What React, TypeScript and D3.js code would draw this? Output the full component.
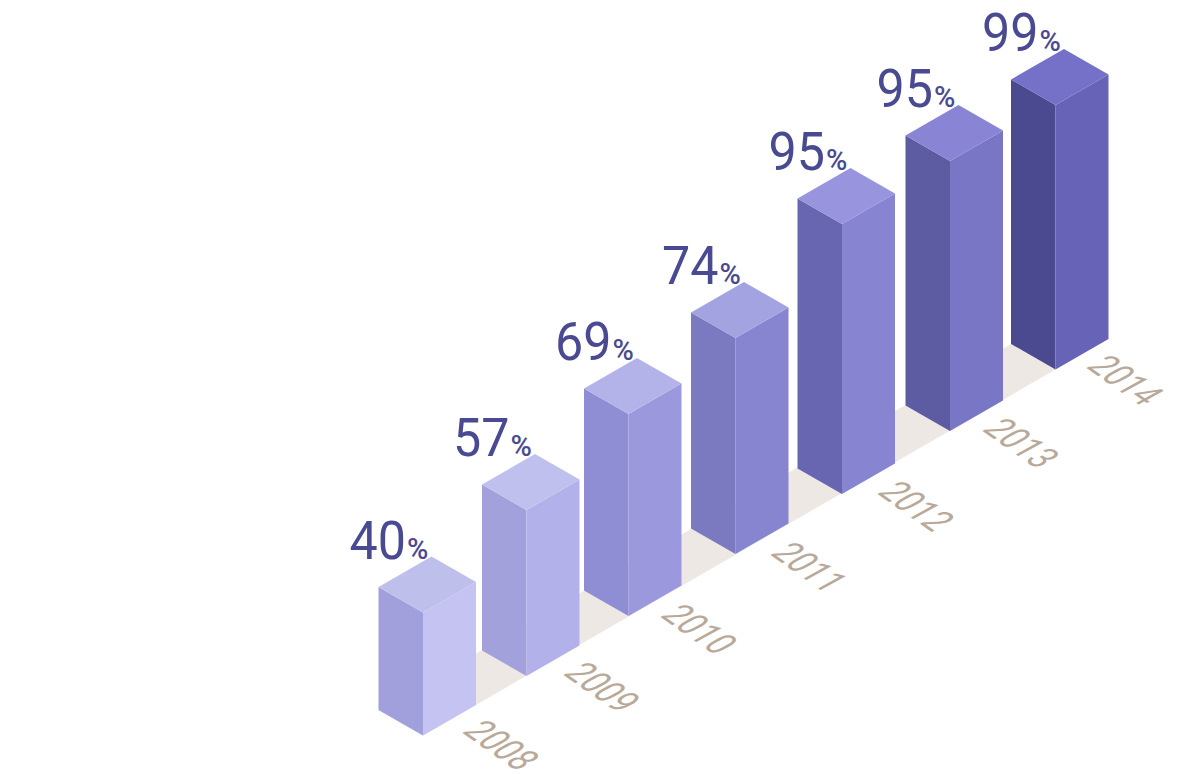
import * as d3 from "d3";

const years = [2008, 2009, 2010, 2011, 2012, 2013, 2014];
const percents = [40, 57, 69, 74, 95, 95, 99];

const topColors = ["#bfbfec", "#c0c0ee", "#b4b3e9", "#a4a3e2", "#9894de", "#8985d4", "#7571c8"];
const leftColors = ["#a1a0dc", "#a2a1dc", "#8f8dd3", "#7b79c0", "#6866b1", "#5d5ba1", "#4b4a91"];
const rightColors = ["#c5c3f1", "#b3b1e9", "#9b98dd", "#8784d0", "#8784d1", "#7a76c6", "#6763b6"];

const width = 1180;
const height = 774;

// isometric edges of a bar's footprint, seen from the front corner
const leftEdge = { x: -44.5, y: -25.5 };
const rightEdge = { x: 53, y: -30.5 };

// the bars are not evenly spaced in the picture, so the scales are piecewise
const baseX = d3.scaleLinear().domain(years).range([423, 526.5, 628.5, 735.5, 842, 950, 1055.5]);
const baseY = d3.scaleLinear().domain(years).range([735.5, 676, 616, 554, 494, 431, 369.5]);
const labelX = d3.scaleLinear().domain(years).range([461, 562, 659, 769, 876, 981, 1085]);
const labelY = d3.scaleLinear().domain(years).range([732, 674, 616, 554, 493, 430, 367]);

// bar heights do not follow the labels linearly either (99% is shorter than 95%)
const barHeight = d3
  .scaleLinear()
  .domain([40, 57, 69, 74, 95, 99])
  .range([123, 166, 202, 216, 270, 264.5]);

type Pt = [number, number];
const polygon = d3.line<Pt>().curve(d3.curveLinearClosed);

function Bar({ index }: { index: number }) {
  const year = years[index];
  const x = baseX(year);
  const y = baseY(year);
  const h = barHeight(percents[index]);
  const top = y - h;

  const frontBottom: Pt = [x, y];
  const frontTop: Pt = [x, top];
  const leftBottom: Pt = [x + leftEdge.x, y + leftEdge.y];
  const leftTop: Pt = [x + leftEdge.x, top + leftEdge.y];
  const rightBottom: Pt = [x + rightEdge.x, y + rightEdge.y];
  const rightTop: Pt = [x + rightEdge.x, top + rightEdge.y];
  const backTop: Pt = [x + leftEdge.x + rightEdge.x, top + leftEdge.y + rightEdge.y];

  return (
    <g>
      <path d={polygon([frontBottom, frontTop, leftTop, leftBottom]) ?? ""} fill={leftColors[index]} />
      <path d={polygon([frontBottom, frontTop, rightTop, rightBottom]) ?? ""} fill={rightColors[index]} />
      <path d={polygon([frontTop, leftTop, backTop, rightTop]) ?? ""} fill={topColors[index]} />
      {/* value label hangs off the back corner of the top face */}
      <text
        transform={`translate(${backTop[0] - 82} ${backTop[1] + 2}) scale(0.93 1)`}
        fill="#4a4a93"
        fontFamily="Roboto"
        fontSize={54}
      >
        {percents[index]}
      </text>
      <text
        x={backTop[0] - 24.5}
        y={backTop[1] + 2}
        fill="#4a4a93"
        fontFamily="Roboto"
        fontWeight={500}
        fontSize={29}
      >
        %
      </text>
      {/* year label lies flat on the ground plane, squeezed along its baseline */}
      <text
        transform={`matrix(0.63 0.44 -0.88 0.48 ${labelX(year)} ${labelY(year)})`}
        fontFamily="Roboto"
        fontSize={40}
        fill="#b8a99a"
      >
        {year}
      </text>
    </g>
  );
}

export default function App() {
  const first = years[0];
  const last = years[years.length - 1];
  const ground: Pt[] = [
    [baseX(first), baseY(first)],
    [baseX(last), baseY(last)],
    [baseX(last) + leftEdge.x, baseY(last) + leftEdge.y],
    [baseX(first) + leftEdge.x, baseY(first) + leftEdge.y],
  ];

  return (
    <svg
      width={width}
      height={height}
      viewBox={`0 0 ${width} ${height}`}
      style={{ position: "absolute", left: 0, top: 0, display: "block" }}
    >
      <path d={polygon(ground) ?? ""} fill="#ede8e4" />
      {years.map((year, i) => (
        <Bar key={year} index={i} />
      ))}
    </svg>
  );
}
